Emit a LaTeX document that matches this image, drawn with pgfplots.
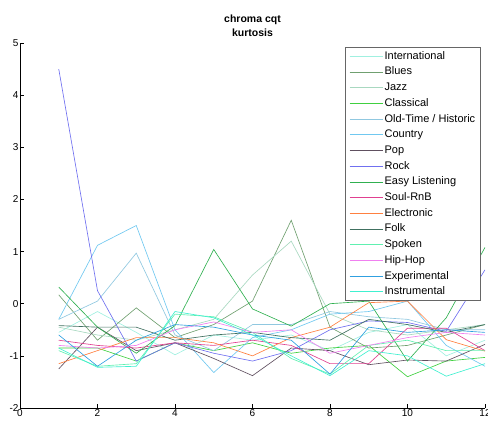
\documentclass[border=0pt]{standalone}
\usepackage{pgfplots}
\pgfplotsset{compat=1.18}
\usepackage{fontspec}
\setmainfont{Liberation Sans}
\definecolor{cInt}{HTML}{A0F0E0}
\definecolor{cBlu}{HTML}{70A070}
\definecolor{cJaz}{HTML}{A8D8C0}
\definecolor{cCla}{HTML}{40D040}
\definecolor{cOld}{HTML}{90C8E0}
\definecolor{cCou}{HTML}{70C8F0}
\definecolor{cPop}{HTML}{605060}
\definecolor{cRoc}{HTML}{7070F0}
\definecolor{cEas}{HTML}{30B050}
\definecolor{cSou}{HTML}{E04090}
\definecolor{cEle}{HTML}{FF8040}
\definecolor{cFol}{HTML}{407060}
\definecolor{cSpo}{HTML}{60F0B0}
\definecolor{cHip}{HTML}{F080F0}
\definecolor{cExp}{HTML}{30A0E0}
\definecolor{cIns}{HTML}{40F0D0}
\begin{document}
\begin{tikzpicture}
\useasboundingbox (-20pt,-14pt) rectangle (468pt,408pt);
\begin{axis}[
  scale only axis, width=465pt, height=365pt,
  xmin=0, xmax=12, ymin=-2, ymax=5,
  xtick={0,2,...,12}, ytick={-2,-1,...,5},
  axis x line*=bottom, axis y line*=left,
  tick align=inside, major tick length=4pt,
  tick style={black, line width=0.6pt},
  axis line style={black, line width=0.8pt},
  ticklabel style={font=\fontsize{10}{11}\selectfont},
  /pgf/number format/assume math mode=true,
  xticklabel style={yshift=2pt},
  yticklabel style={xshift=2pt},
  title={\textbf{chroma cqt}\\\textbf{kurtosis}},
  title style={font=\fontsize{10.5}{13.5}\selectfont, align=center, yshift=-3pt},
  every axis plot/.append style={line width=0.65pt, mark=none},
  legend cell align=left,
  legend style={at={(0.9915,0.988)}, anchor=north east, draw=black!60, line width=0.6pt,
    font=\fontsize{11}{12}\selectfont, row sep=6.1pt,
    nodes={text height=7.6pt, text depth=2pt, inner ysep=0pt, inner xsep=1.5pt},
    inner xsep=4pt, inner ysep=4pt},
  legend image code/.code={\draw[#1, line width=1pt] (0pt,0pt) -- (33pt,0pt);},
]
\addplot[cInt] coordinates {(1,-0.55)(2,-0.15)(3,-0.55)(4,-0.98)(5,-0.6)(6,-0.7)(7,-0.6)(8,-0.9)(9,-0.55)(10,-0.4)(11,-1.0)(12,-0.7)};
\addlegendentry{International}
\addplot[cBlu] coordinates {(1,0.17)(2,-0.7)(3,-0.08)(4,-0.65)(5,-0.4)(6,0.05)(7,1.6)(8,-0.45)(9,-0.85)(10,-0.8)(11,-0.6)(12,-0.4)};
\addlegendentry{Blues}
\addplot[cJaz] coordinates {(1,-0.45)(2,-0.6)(3,-0.7)(4,-0.5)(5,-0.3)(6,0.55)(7,1.2)(8,-0.2)(9,-0.5)(10,-0.6)(11,-0.5)(12,-0.4)};
\addlegendentry{Jazz}
\addplot[cCla] coordinates {(1,-0.85)(2,-0.85)(3,-1.1)(4,-0.75)(5,-0.9)(6,-0.75)(7,-0.95)(8,-0.85)(9,-0.8)(10,-1.4)(11,-1.1)(12,-1.03)};
\addlegendentry{Classical}
\addplot[cOld] coordinates {(1,-0.3)(2,0.05)(3,0.97)(4,-0.6)(5,-0.9)(6,-0.4)(7,-0.4)(8,-0.15)(9,-0.25)(10,-0.3)(11,-0.5)(12,-0.5)};
\addlegendentry{Old-Time / Historic}
\addplot[cCou] coordinates {(1,-0.3)(2,1.12)(3,1.5)(4,-0.5)(5,-1.32)(6,-0.65)(7,-0.5)(8,-0.2)(9,-0.15)(10,0.05)(11,-0.8)(12,-1.2)};
\addlegendentry{Country}
\addplot[cPop] coordinates {(1,-1.25)(2,-0.45)(3,-0.9)(4,-0.75)(5,-1.05)(6,-1.38)(7,-0.85)(8,-0.9)(9,-1.17)(10,-1.08)(11,-1.1)(12,-0.78)};
\addlegendentry{Pop}
\addplot[cRoc] coordinates {(1,4.5)(2,0.25)(3,-1.1)(4,-0.75)(5,-0.95)(6,-1.1)(7,-0.9)(8,-0.5)(9,-0.33)(10,-0.36)(11,-0.53)(12,0.65)};
\addlegendentry{Rock}
\addplot[cEas] coordinates {(1,0.32)(2,-0.45)(3,-0.95)(4,-0.42)(5,1.04)(6,-0.1)(7,-0.43)(8,0.0)(9,0.05)(10,-1.1)(11,-0.27)(12,1.08)};
\addlegendentry{Easy Listening}
\addplot[cSou] coordinates {(1,-0.7)(2,-0.8)(3,-0.85)(4,-0.75)(5,-0.8)(6,-0.7)(7,-0.8)(8,-1.15)(9,-1.15)(10,-0.47)(11,-0.47)(12,-0.9)};
\addlegendentry{Soul-RnB}
\addplot[cEle] coordinates {(1,-1.15)(2,-0.9)(3,-0.65)(4,-0.65)(5,-0.75)(6,-1.0)(7,-0.65)(8,-0.45)(9,0.02)(10,0.05)(11,-0.69)(12,-0.91)};
\addlegendentry{Electronic}
\addplot[cFol] coordinates {(1,-0.42)(2,-0.45)(3,-0.45)(4,-0.7)(5,-0.6)(6,-0.55)(7,-0.65)(8,-0.7)(9,-0.3)(10,-0.4)(11,-0.55)(12,-0.4)};
\addlegendentry{Folk}
\addplot[cSpo] coordinates {(1,-0.9)(2,-1.2)(3,-1.15)(4,-0.2)(5,-0.25)(6,-0.55)(7,-1.05)(8,-1.35)(9,-0.8)(10,-0.7)(11,-0.9)(12,-0.9)};
\addlegendentry{Spoken}
\addplot[cHip] coordinates {(1,-0.8)(2,-0.85)(3,-0.8)(4,-0.5)(5,-0.35)(6,-0.55)(7,-0.5)(8,-0.95)(9,-0.8)(10,-0.65)(11,-0.55)(12,-0.6)};
\addlegendentry{Hip-Hop}
\addplot[cExp] coordinates {(1,-0.6)(2,-1.2)(3,-0.7)(4,-0.4)(5,-0.45)(6,-0.6)(7,-0.7)(8,-1.35)(9,-0.45)(10,-0.55)(11,-0.5)(12,-0.55)};
\addlegendentry{Experimental}
\addplot[cIns] coordinates {(1,-0.85)(2,-1.22)(3,-1.2)(4,-0.15)(5,-0.27)(6,-0.6)(7,-1.0)(8,-1.38)(9,-0.9)(10,-1.0)(11,-1.39)(12,-1.15)};
\addlegendentry{Instrumental}
\end{axis}
\end{tikzpicture}
\end{document}
